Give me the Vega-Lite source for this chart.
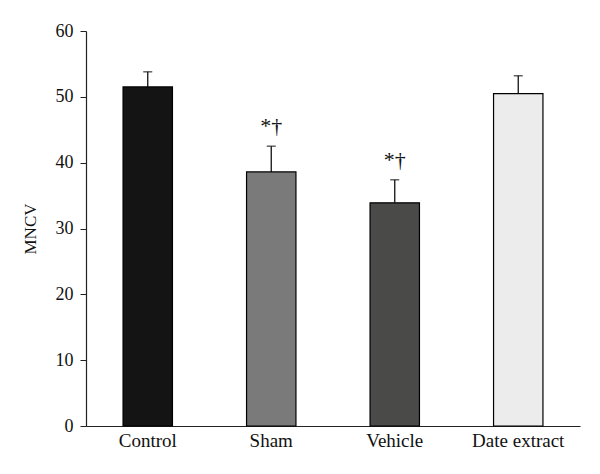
{
  "$schema": "https://vega.github.io/schema/vega-lite/v6.json",
  "width": 494,
  "height": 395,
  "autosize": {"type": "none"},
  "padding": {"left": 86, "top": 31, "right": 20, "bottom": 48},
  "background": "white",
  "config": {
    "view": {"stroke": null},
    "font": "Liberation Serif",
    "axis": {"labelFont": "Liberation Serif", "titleFont": "Liberation Serif", "domainColor": "#222", "tickColor": "#222", "labelColor": "#111", "titleColor": "#111", "grid": false}
  },
  "data": {
    "values": [
      {"group": "Control", "mean": 51.5, "upper": 53.8, "sig": "", "fillc": "#141414"},
      {"group": "Sham", "mean": 38.6, "upper": 42.5, "sig": "*†", "fillc": "#7a7a7a"},
      {"group": "Vehicle", "mean": 33.9, "upper": 37.4, "sig": "*†", "fillc": "#4a4a48"},
      {"group": "Date extract", "mean": 50.5, "upper": 53.2, "sig": "", "fillc": "#ececec"}
    ]
  },
  "encoding": {
    "x": {
      "field": "group", "type": "nominal", "sort": null,
      "scale": {"paddingInner": 0.6, "paddingOuter": 0.3},
      "axis": {"title": null, "labelAngle": 0, "ticks": false, "labelFontSize": 19, "labelPadding": 5, "domainWidth": 1.2}
    }
  },
  "layer": [
    {
      "mark": {"type": "rule", "stroke": "#111", "strokeWidth": 1.3},
      "encoding": {
        "y": {"field": "mean", "type": "quantitative"},
        "y2": {"field": "upper"}
      }
    },
    {
      "mark": {"type": "tick", "orient": "horizontal", "size": 9, "thickness": 1.4, "color": "#111"},
      "encoding": {
        "y": {"field": "upper", "type": "quantitative"}
      }
    },
    {
      "mark": {"type": "bar", "stroke": "#000", "strokeWidth": 1.2},
      "encoding": {
        "y": {
          "field": "mean", "type": "quantitative",
          "scale": {"domain": [0, 60], "nice": false},
          "axis": {"title": "MNCV", "titleFontSize": 17, "titleFontWeight": "normal", "titlePadding": 16, "values": [0, 10, 20, 30, 40, 50, 60], "labelFontSize": 18, "tickSize": 6, "labelPadding": 7, "domainWidth": 1.2}
        },
        "fill": {"field": "fillc", "type": "nominal", "scale": null}
      }
    },
    {
      "mark": {"type": "text", "fontSize": 22, "baseline": "bottom", "dy": -8, "fill": "#111"},
      "encoding": {
        "y": {"field": "upper", "type": "quantitative"},
        "text": {"field": "sig"}
      }
    }
  ]
}
